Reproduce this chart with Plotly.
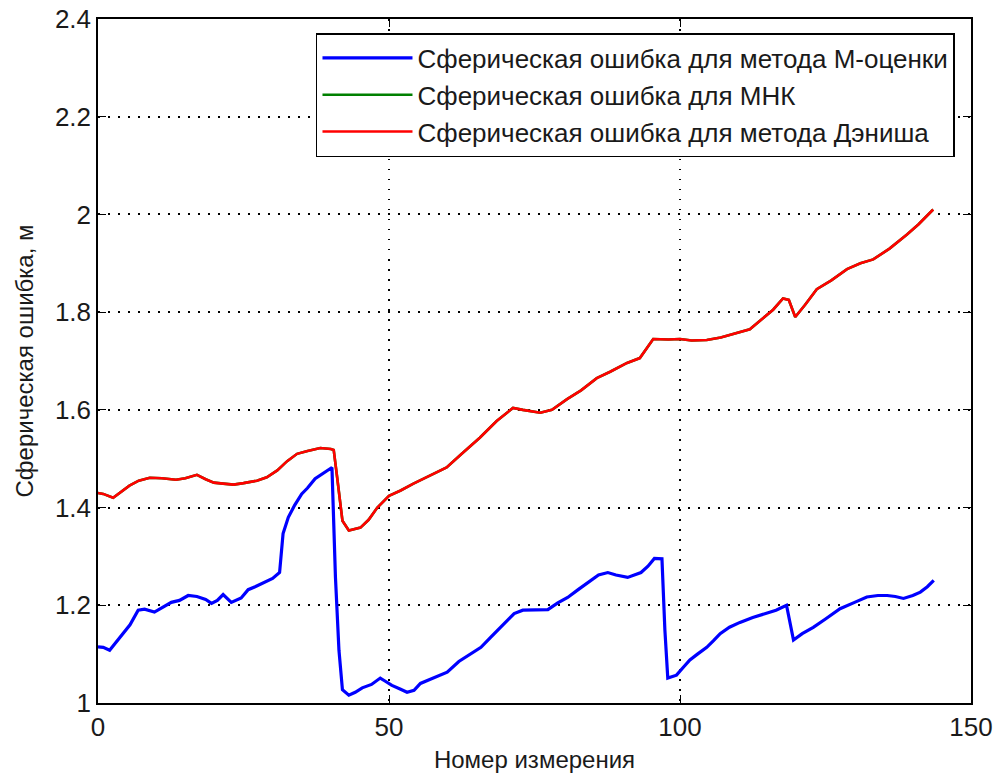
import plotly.graph_objects as go

# Blue: M-estimation
x_m = [0, 0.9, 2, 3.9, 5.5, 6.9, 8, 9.7, 11, 12.6, 14, 15.5, 17, 18.5, 19.5, 20.5, 21.5, 22.9, 24.6,
       25.8, 27, 28.6, 30, 31.2, 31.8, 32.7, 33.8, 35, 36, 37.3, 38.8, 40.2, 40.8, 41.4, 42, 43.1,
       44.2, 45.4, 47, 48.5, 49.3, 50.5, 52, 53.1, 54.3, 55.4, 57, 58.5, 60, 62, 64, 65.8, 67.5,
       69.5, 71.5, 73, 75, 77.3, 79, 80.7, 82.5, 84.5, 86, 87.6, 89, 91, 93.3, 94.5, 95.6, 96.9,
       97.4, 97.9, 99.4, 100.5, 101.7, 103, 104.6, 105.8, 106.9, 108.5, 110.3, 112.5, 114.9, 116.5,
       118.3, 118.9, 119.5, 121, 122.9, 125, 127.5, 130, 132.1, 134, 135.6, 137, 138.4, 140, 141.3,
       142.5, 143.6]
y_m = [1.115, 1.114, 1.108, 1.135, 1.16, 1.19, 1.192, 1.186, 1.195, 1.206, 1.21, 1.22, 1.218, 1.212,
       1.204, 1.21, 1.222, 1.206, 1.215, 1.232, 1.238, 1.247, 1.255, 1.267, 1.347, 1.38, 1.405, 1.428,
       1.44, 1.459, 1.47, 1.482, 1.257, 1.108, 1.027, 1.016, 1.022, 1.031, 1.038, 1.051, 1.045, 1.036,
       1.028, 1.022, 1.026, 1.04, 1.048, 1.055, 1.063, 1.085, 1.1, 1.114, 1.135, 1.158, 1.183, 1.19,
       1.19, 1.191, 1.205, 1.216, 1.232, 1.25, 1.262, 1.267, 1.262, 1.257, 1.267, 1.28, 1.296, 1.295,
       1.15, 1.051, 1.057, 1.072, 1.088, 1.1, 1.114, 1.128, 1.142, 1.155, 1.165, 1.175, 1.183, 1.19,
       1.2, 1.16, 1.129, 1.142, 1.155, 1.172, 1.193, 1.206, 1.217, 1.22, 1.22, 1.218, 1.214, 1.22,
       1.227, 1.238, 1.251]

# Red: Dennis method
x_d = [0, 0.9, 2.6, 4, 5.4, 7, 8.9, 11, 13.4, 15, 17, 18.5, 19.9, 21.5, 23.3, 25, 27.3, 29, 30.8,
       32.5, 34.2, 36, 38.2, 40, 40.5, 41.1, 42, 43.1, 45.1, 46.5, 48, 50, 52, 54.2, 57, 59.9, 62.5,
       65.6, 68.5, 70, 71.3, 73, 74.5, 76, 78, 80.6, 83, 85.7, 88, 90.9, 93.1, 95.4, 98, 100, 102,
       104.6, 107, 109, 112, 114, 116, 117.7, 118.7, 119.8, 121.5, 123.5, 126, 128.7, 131, 133.2,
       136, 139, 141, 143.5]
y_d = [1.43, 1.428, 1.42, 1.432, 1.445, 1.455, 1.461, 1.46, 1.457, 1.46, 1.467, 1.458, 1.451, 1.449,
       1.447, 1.45, 1.455, 1.462, 1.476, 1.495, 1.51, 1.516, 1.522, 1.52, 1.518, 1.461, 1.373, 1.353,
       1.359, 1.375, 1.4, 1.424, 1.435, 1.449, 1.465, 1.482, 1.51, 1.543, 1.577, 1.592, 1.604, 1.6,
       1.597, 1.594, 1.6, 1.622, 1.64, 1.665, 1.678, 1.696, 1.706, 1.745, 1.744, 1.745, 1.742, 1.743,
       1.748, 1.755, 1.765, 1.785, 1.805, 1.828, 1.825, 1.79, 1.815, 1.847, 1.865, 1.888, 1.9, 1.908,
       1.93, 1.959, 1.98, 2.01]

# Green: least squares (coincides with Dennis and lies under it)
x_ls = list(x_d)
y_ls = list(y_d)

names = ["Сферическая ошибка для метода М-оценки",
         "Сферическая ошибка для МНК",
         "Сферическая ошибка для метода Дэниша"]

x_ticks = [0, 50, 100, 150]
y_ticks = [1, 1.2, 1.4, 1.6, 1.8, 2, 2.2, 2.4]
y_tick_text = ["1", "1.2", "1.4", "1.6", "1.8", "2", "2.2", "2.4"]

FONT = "Liberation Sans, Arial, sans-serif"
TXT = "#1a1a1a"

fig = go.Figure()
fig.add_trace(go.Scatter(x=x_m, y=y_m, mode="lines", name=names[0],
                         line=dict(color="#0000ff", width=3.2)))
fig.add_trace(go.Scatter(x=x_ls, y=y_ls, mode="lines", name=names[1],
                         line=dict(color="#008000", width=2.6)))
fig.add_trace(go.Scatter(x=x_d, y=y_d, mode="lines", name=names[2],
                         line=dict(color="#ff0000", width=2.6)))

axis_common = dict(
    showline=True, linecolor="black", linewidth=1.5, mirror="ticks",
    ticks="inside", ticklen=8, tickcolor="black", tickwidth=1,
    showgrid=True, gridcolor="black", gridwidth=1.5, griddash="1.5px,8.5px",
    zeroline=False, automargin=False, tickfont=dict(family=FONT, size=26, color=TXT),
)

fig.update_layout(
    width=997, height=778,
    margin=dict(l=98, r=26, t=19, b=75),
    paper_bgcolor="white", plot_bgcolor="white",
    font=dict(family=FONT, size=24, color=TXT),
    xaxis=dict(range=[0, 150], tickvals=x_ticks, **axis_common,
               title=dict(text="Номер измерения", font=dict(size=24), standoff=10)),
    yaxis=dict(range=[1, 2.4], tickvals=y_ticks, ticktext=y_tick_text, **axis_common,
               title=dict(text="Сферическая ошибка, м", font=dict(size=24), standoff=14)),
    legend=dict(x=0.2497, y=0.9795, xanchor="left", yanchor="top",
                bgcolor="white", bordercolor="black", borderwidth=1.5,
                font=dict(family=FONT, size=26, color=TXT),
                itemwidth=90, tracegroupgap=0),
    showlegend=True,
)

fig.write_html("out.html")
